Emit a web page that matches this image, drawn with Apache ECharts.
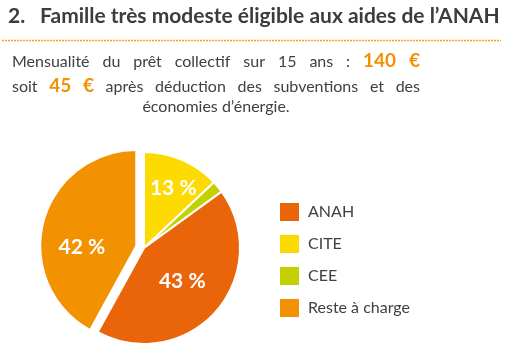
<!DOCTYPE html>
<html><head><meta charset="utf-8">
<script src="https://cdn.jsdelivr.net/npm/echarts@6/dist/echarts.min.js"></script>
<style>html,body{margin:0;padding:0;background:#fff}#c{width:507px;height:356px}</style>
</head><body><div id="c"></div>
<script>
// ---- data ----
const categories = ['CITE', 'CEE', 'ANAH', 'Reste à charge'];
const values = [13, 2, 43, 42];
const legendOrder = ['ANAH', 'CITE', 'CEE', 'Reste à charge'];
const titleNumber = '2.';
const titleText = 'Famille très modeste éligible aux aides de l’ANAH';
const line1Words = ['Mensualité', 'du', 'prêt', 'collectif', 'sur', '15', 'ans', ':', '140', '€'];
const line1Highlight = [0, 0, 0, 0, 0, 0, 0, 0, 1, 1];
const line2Words = ['soit', '45', '€', 'après', 'déduction', 'des', 'subventions', 'et', 'des'];
const line2Highlight = [0, 1, 1, 0, 0, 0, 0, 0, 0];
const line3Text = 'économies d’énergie.';

// ---- styles ----
const colors = {'CITE': '#FDDA00', 'CEE': '#C3D100', 'ANAH': '#EA650A', 'Reste à charge': '#F39200'};
const FONT = 'Lato';
const textColor = '#404040';
const hiColor = '#F39200';
const labelNudge = {'CITE': [9, -13], 'ANAH': [0, 0], 'Reste à charge': [-5, 14], 'CEE': [0, 0]};

const cv = document.createElement('canvas').getContext('2d');
function measure(t, font) { cv.font = font; return cv.measureText(t).width; }

const sNorm = 16, sHi = 19;
const fNorm = sNorm + 'px ' + FONT;
const fHi = 'bold ' + sHi + 'px ' + FONT;
function midY(baseline, size) { return baseline - 0.3 * size; }

function justify(words, hi, x0, x1, base) {
  const ws = words.map((w, i) => measure(w, hi[i] ? fHi : fNorm));
  const total = ws.reduce((a, b) => a + b, 0);
  const gap = (x1 - x0 - total) / (words.length - 1);
  let x = x0;
  return words.map((w, i) => {
    const el = {
      type: 'text', x: x, y: midY(base, hi[i] ? sHi : sNorm),
      style: {
        text: w, fill: hi[i] ? hiColor : textColor,
        font: hi[i] ? fHi : fNorm, verticalAlign: 'middle', align: 'left'
      }
    };
    x += ws[i] + gap;
    return el;
  });
}

const tW = measure(titleText, 'bold 21px ' + FONT);
const tSize = Math.round(21 * 460 / tW * 4) / 4;
const tFont = 'bold ' + tSize + 'px ' + FONT;

const graphics = [
  {type: 'text', x: 8, y: midY(23, tSize), style: {text: titleNumber, font: tFont, fill: '#3C3C3B', verticalAlign: 'middle'}},
  {type: 'text', x: 40, y: midY(23, tSize), style: {text: titleText, font: tFont, fill: '#3C3C3B', verticalAlign: 'middle'}},
  {type: 'line', shape: {x1: 2, y1: 40.5, x2: 501, y2: 40.5}, style: {stroke: '#F7A21B', lineWidth: 1.5, lineDash: [2, 1]}},
  ...justify(line1Words, line1Highlight, 12, 420, 67),
  ...justify(line2Words, line2Highlight, 12, 420, 92),
  {type: 'text', x: 216, y: midY(112, sNorm), style: {text: line3Text, font: fNorm, fill: textColor, align: 'center', verticalAlign: 'middle'}}
];

const chart = echarts.init(document.getElementById('c'), null, {renderer: 'canvas'});
chart.setOption({
  animation: false,
  graphic: graphics,
  legend: {
    data: legendOrder, orient: 'vertical', left: 278, top: 201,
    itemWidth: 21, itemHeight: 20, itemGap: 10, icon: 'rect', padding: 0,
    selectedMode: false,
    textStyle: {fontFamily: FONT, fontSize: 16, color: textColor, padding: [0, 0, 0, 3]}
  },
  series: [{
    type: 'pie', center: [144, 248], radius: 96, startAngle: 90, clockwise: true,
    selectedMode: 'multiple', selectedOffset: 8,
    avoidLabelOverlap: false,
    emphasis: {disabled: true},
    itemStyle: {borderColor: '#fff', borderWidth: 2},
    label: {
      show: true, position: 'inside', formatter: '{c} %',
      fontFamily: FONT, fontWeight: 'bold', fontSize: 21, color: '#fff'
    },
    labelLine: {show: false},
    labelLayout: function (p) {
      const n = labelNudge[categories[p.dataIndex]];
      return {dx: n[0], dy: n[1]};
    },
    data: categories.map((c, i) => ({
      name: c, value: values[i],
      selected: c === 'Reste à charge',
      itemStyle: {color: colors[c]},
      label: {show: c !== 'CEE'},
      select: {itemStyle: {color: colors[c], borderColor: '#fff', borderWidth: 2}}
    }))
  }]
});
</script></body></html>
